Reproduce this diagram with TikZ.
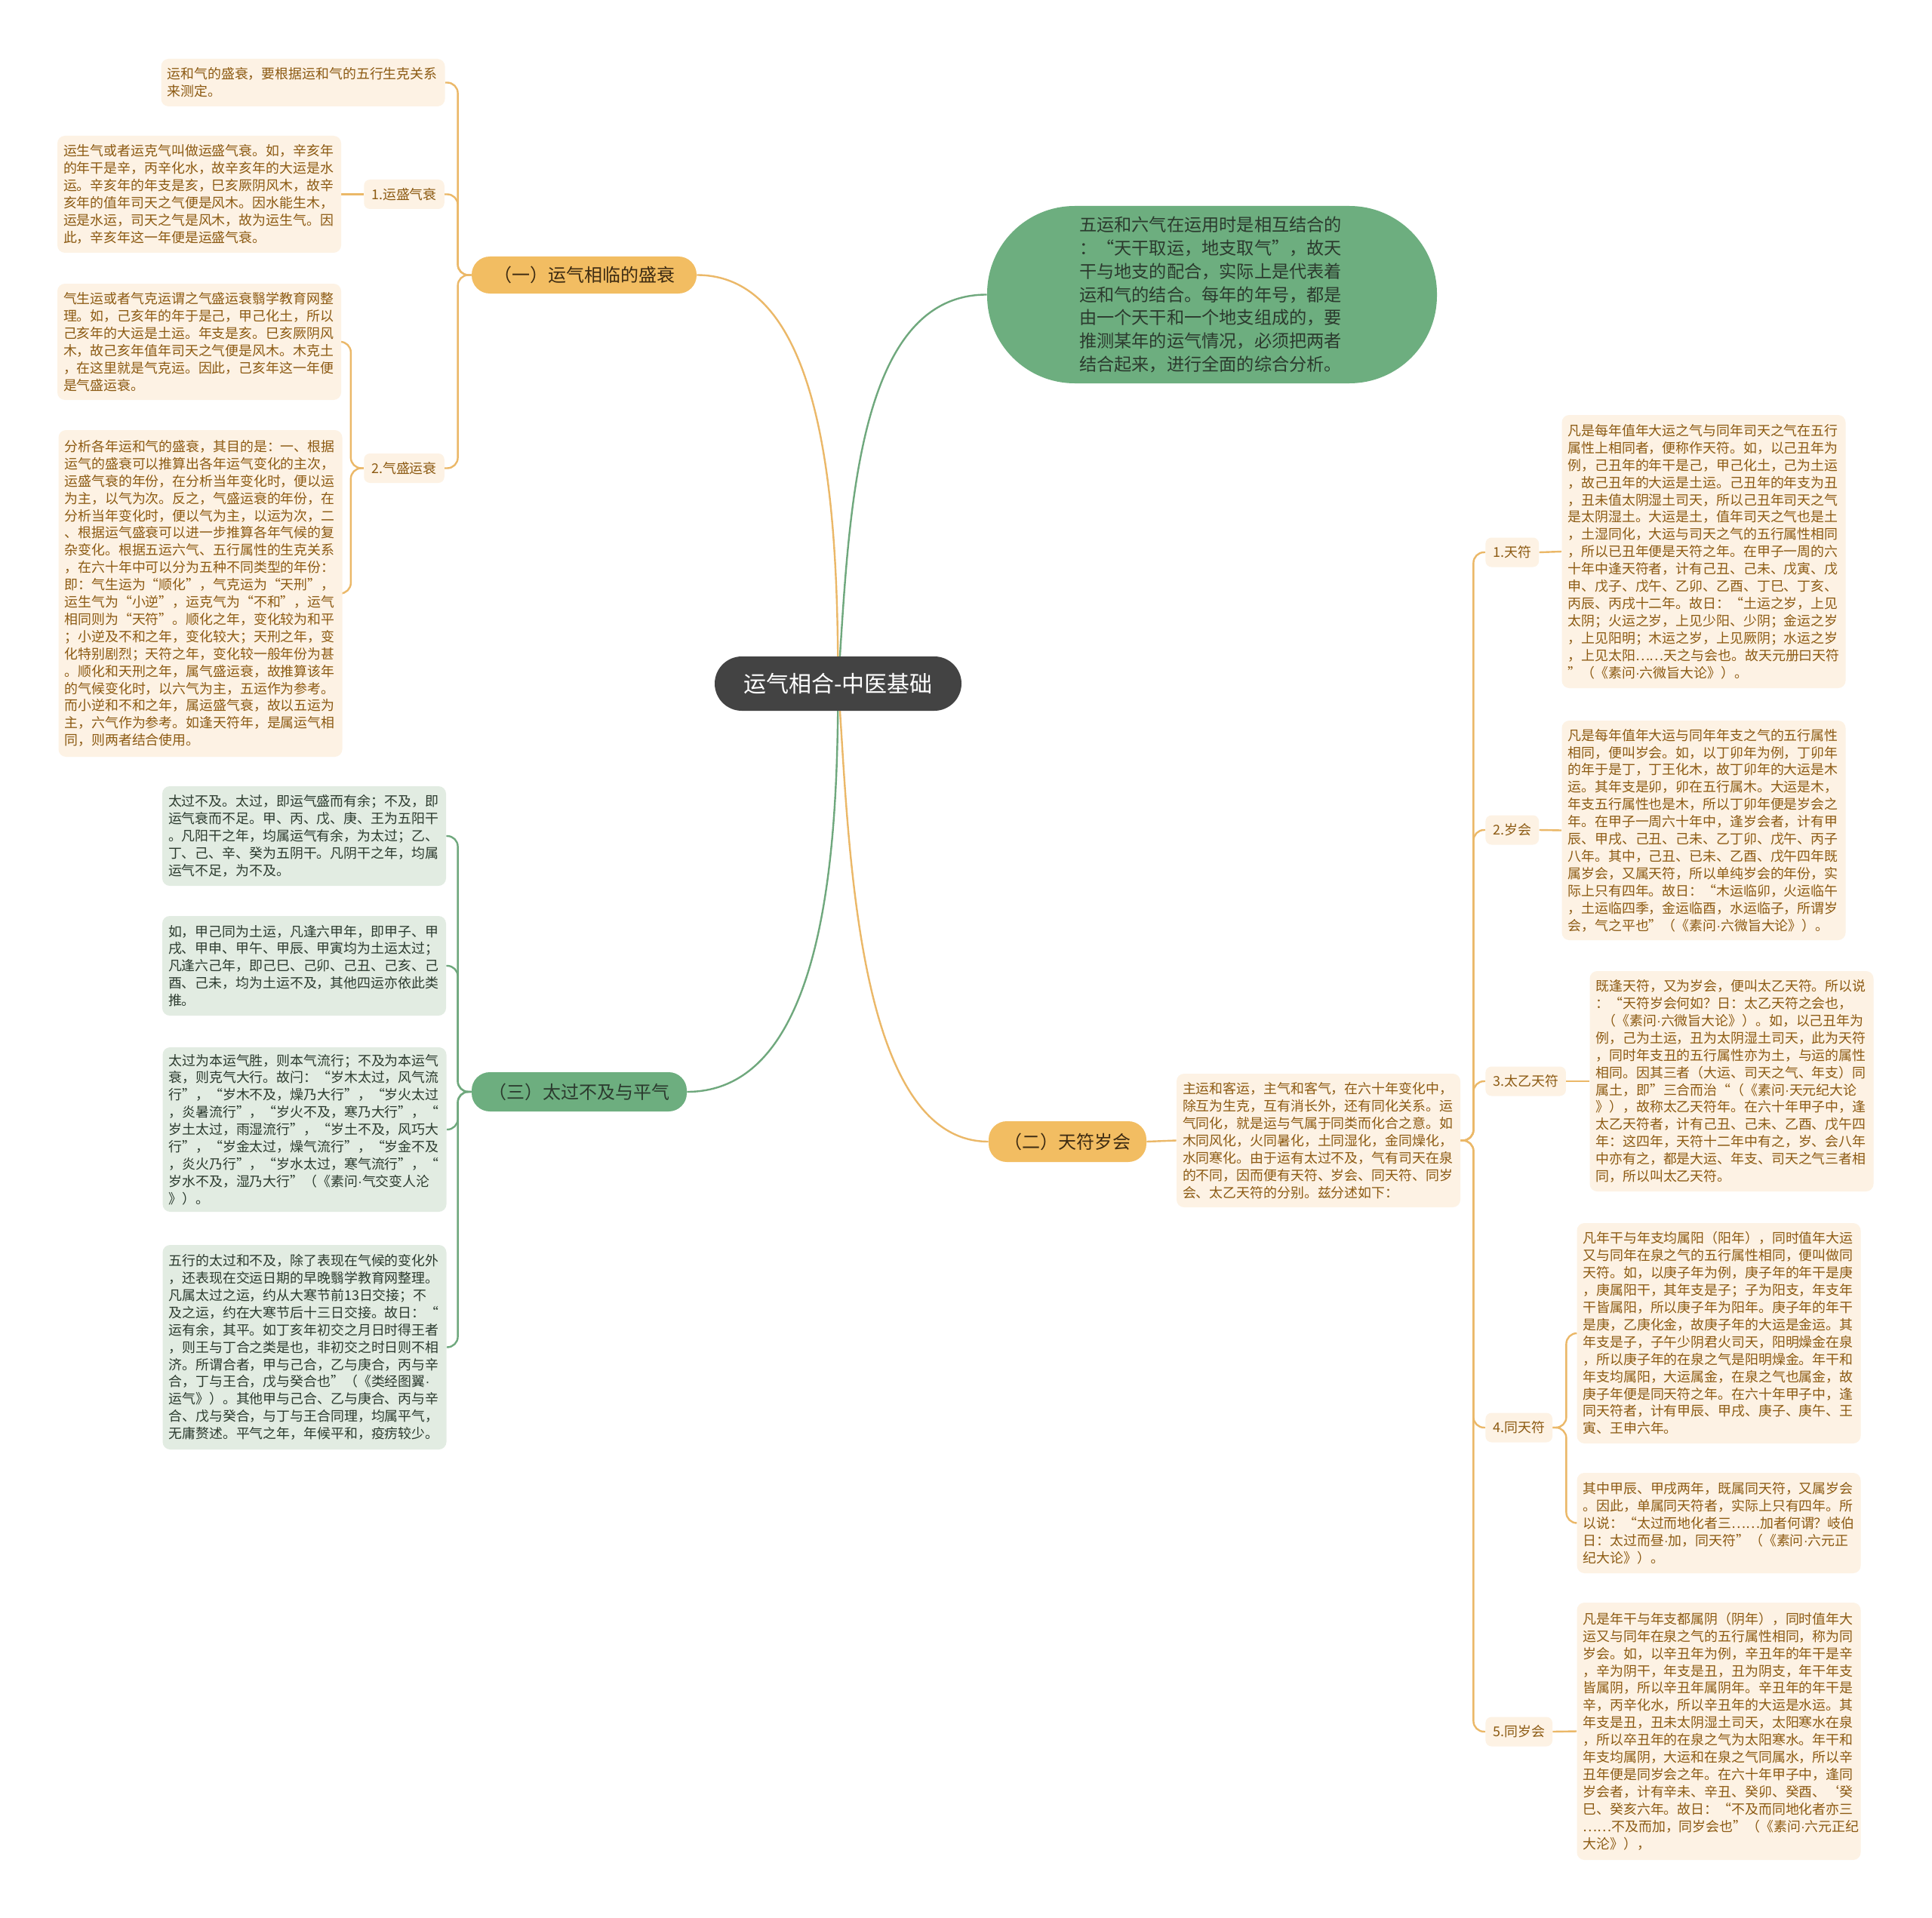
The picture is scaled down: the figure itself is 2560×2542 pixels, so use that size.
\documentclass[tikz,border=0pt]{standalone}
\usepackage{fontspec}
\setmainfont{Noto Sans CJK SC}
\newfontfamily\latinfont{Liberation Sans}
\newcommand\mdot{{\latinfont ·}}
\pgfdeclarelayer{bg}
\pgfsetlayers{bg,main}
\definecolor{obr}{HTML}{8C5A12}
\definecolor{obg}{HTML}{FDF2E4}
\definecolor{olinec}{HTML}{EBB868}
\definecolor{glinec}{HTML}{6FA87D}
\definecolor{gfill}{HTML}{E2ECE2}
\definecolor{gtext}{HTML}{2B3A2E}
\definecolor{gmain}{HTML}{6DAE7F}
\definecolor{omain}{HTML}{F2BD62}
\definecolor{rootc}{HTML}{434343}
\definecolor{pilltext}{HTML}{3D2B12}
\newcommand\bodyfont{\fontsize{8.95pt}{11.45pt}\selectfont}
\tikzset{
  obox/.style={fill=obg, rounded corners=5pt, text=obr, font=\bodyfont, align=left,
    text width=180pt, inner xsep=4pt, inner ysep=0pt},
  gbox/.style={obox, fill=gfill, text=gtext},
  olabel/.style={fill=obg, rounded corners=4pt, text=obr, font=\bodyfont,
    inner xsep=5pt, inner ysep=0pt, minimum height=19.5pt},
  opill/.style={fill=omain, text=pilltext, rounded corners=12pt, minimum height=24.5pt,
    font=\fontsize{12pt}{14pt}\selectfont, inner sep=0pt},
  gpill/.style={opill, fill=gmain, text=gtext},
  rootbox/.style={fill=rootc, text=white, rounded corners=18pt, minimum width=163.5pt,
    minimum height=36pt, font=\fontsize{15pt}{18pt}\selectfont, inner sep=0pt},
  stadium/.style={fill=gmain, rounded corners=58pt, minimum width=298pt, minimum height=117.5pt,
    text width=176pt, align=left, inner sep=0pt, text=gtext,
    font=\fontsize{11.6pt}{15.35pt}\selectfont},
  oedge/.style={draw=olinec, line width=1.2pt},
  gedge/.style={draw=glinec, line width=1.2pt},
}
\begin{document}
\begin{tikzpicture}[x=0.5pt,y=-0.5pt]
\useasboundingbox (0,0) rectangle (2560,2542);
\begin{pgfonlayer}{bg}
\fill[white] (0,0) rectangle (2560,2542);
\end{pgfonlayer}

% root and main branches
\node[rootbox] (root) at (1110.5,906) {运气相合-中医基础};
\node[opill, minimum width=149pt] (b1) at (774,364.5) {（一）运气相临的盛衰};
\node[gpill, minimum width=142.5pt, minimum height=26pt] (b3) at (767.5,1447) {（三）太过不及与平气};
\node[opill, minimum width=104.5pt, minimum height=27pt] (b2) at (1414.5,1513) {（二）天符岁会};
\node[stadium] (e) at (1606,390.5) {五运和六气在运用时是相互结合的\\：“天干取运，地支取气”，故天\\干与地支的配合，实际上是代表着\\运和气的结合。每年的年号，都是\\由一个天干和一个地支组成的，要\\推测某年的运气情况，必须把两者\\结合起来，进行全面的综合分析。};

% (一) group
\node[obox, minimum height=31.5pt] (t0) at (401.5,109.5) {运和气的盛衰，要根据运和气的五行生克关系\\来测定。};
\node[olabel] (l1) at (535.5,257.5) {1.运盛气衰};
\node[olabel] (l2) at (535.5,620.5) {2.气盛运衰};
\node[obox, minimum height=77.5pt] (b1a) at (264,257.5) {运生气或者运克气叫做运盛气衰。如，辛亥年\\的年干是辛，丙辛化水，故辛亥年的大运是水\\运。辛亥年的年支是亥，巳亥厥阴风木，故辛\\亥年的值年司天之气便是风木。因水能生木，\\运是水运，司天之气是风木，故为运生气。因\\此，辛亥年这一年便是运盛气衰。};
\node[obox, minimum height=77pt] (b1b) at (264,453) {气生运或者气克运谓之气盛运衰翳学教育网整\\理。如，己亥年的年于是己，甲己化土，所以\\己亥年的大运是土运。年支是亥。巳亥厥阴风\\木，故己亥年值年司天之气便是风木。木克土\\，在这里就是气克运。因此，己亥年这一年便\\是气盛运衰。};
\node[obox, minimum height=216.5pt] (b1c) at (265.5,786.5) {分析各年运和气的盛衰，其目的是：一、根据\\运气的盛衰可以推算出各年运气变化的主次，\\运盛气衰的年份，在分析当年变化时，便以运\\为主，以气为次。反之，气盛运衰的年份，在\\分析当年变化时，便以气为主，以运为次，二\\、根据运气盛衰可以进一步推算各年气候的复\\杂变化。根据五运六气、五行属性的生克关系\\，在六十年中可以分为五种不同类型的年份：\\即：气生运为“顺化”，气克运为“天刑”，\\运生气为“小逆”，运克气为“不和”，运气\\相同则为“天符”。顺化之年，变化较为和平\\；小逆及不和之年，变化较大；天刑之年，变\\化特别剧烈；天符之年，变化较一般年份为甚\\。顺化和天刑之年，属气盛运衰，故推算该年\\的气候变化时，以六气为主，五运作为参考。\\而小逆和不和之年，属运盛气衰，故以五运为\\主，六气作为参考。如逢天符年，是属运气相\\同，则两者结合使用。};

% (三) group
\node[gbox, minimum height=66pt] (g1) at (403,1108) {太过不及。太过，即运气盛而有余；不及，即\\运气衰而不足。甲、丙、戊、庚、王为五阳干\\。凡阳干之年，均属运气有余，为太过；乙、\\丁、己、辛、癸为五阴干。凡阴干之年，均属\\运气不足，为不及。};
\node[gbox, minimum height=66pt] (g2) at (403,1280) {如，甲己同为土运，凡逢六甲年，即甲子、甲\\戌、甲申、甲午、甲辰、甲寅均为土运太过；\\凡逢六己年，即己巳、己卯、己丑、己亥、己\\酉、己未，均为土运不及，其他四运亦依此类\\推。};
\node[gbox, minimum height=109pt] (g3) at (403.5,1497) {太过为本运气胜，则本气流行；不及为本运气\\衰，则克气大行。故闩：“岁木太过，风气流\\行”，“岁木不及，燥乃大行”，“岁火太过\\，炎暑流行”，“岁火不及，寒乃大行”，“\\岁土太过，雨湿流行”，“岁土不及，风巧大\\行”，“岁金太过，燥气流行”，“岁金不及\\，炎火乃行”，“岁水太过，寒气流行”，“\\岁水不及，湿乃大行”（《素问\mdot 气交变人沦\\》）。};
\node[gbox, minimum height=135.5pt] (g4) at (403.5,1785.5) {五行的太过和不及，除了表现在气候的变化外\\，还表现在交运日期的早晚翳学教育网整理。\\凡属太过之运，约从大寒节前13日交接；不\\及之运，约在大寒节后十三日交接。故日：“\\运有余，其平。如丁亥年初交之月日时得王者\\，则王与丁合之类是也，非初交之时日则不相\\济。所谓合者，甲与己合，乙与庚合，丙与辛\\合，丁与王合，戊与癸合也”（《类经图翼\mdot\\运气》）。其他甲与己合、乙与庚合、丙与辛\\合、戊与癸合，与丁与王合同理，均属平气，\\无庸赘述。平气之年，年候平和，疫疠较少。};

% (二) group
\node[obox, minimum height=88.5pt] (m) at (1747,1511.5) {主运和客运，主气和客气，在六十年变化中，\\除互为生克，互有消长外，还有同化关系。运\\气同化，就是运与气属于同类而化合之意。如\\木同风化，火同暑化，土同湿化，金同燥化，\\水同寒化。由于运有太过不及，气有司天在泉\\的不同，因而便有天符、岁会、同天符、同岁\\会、太乙天符的分别。兹分述如下：};
\node[olabel, anchor=west] (r1l) at (1968,732) {1.天符};
\node[olabel, anchor=west] (r2l) at (1968,1100) {2.岁会};
\node[olabel, anchor=west] (r3l) at (1968,1433) {3.太乙天符};
\node[olabel, anchor=west] (r4l) at (1968,1892) {4.同天符};
\node[olabel, anchor=west] (r5l) at (1968,2295) {5.同岁会};
\node[obox, minimum height=181pt] (r1) at (2257.5,731) {凡是每年值年大运之气与同年司天之气在五行\\属性上相同者，便称作天符。如，以己丑年为\\例，己丑年的年干是己，甲己化土，己为土运\\，故己丑年的大运是土运。己丑年的年支为丑\\，丑未值太阴湿土司天，所以己丑年司天之气\\是太阴湿土。大运是土，值年司天之气也是土\\，土湿同化，大运与司天之气的五行属性相同\\，所以已丑年便是天符之年。在甲子一周的六\\十年中逢天符者，计有己丑、己未、戊寅、戊\\申、戊子、戊午、乙卯、乙酉、丁巳、丁亥、\\丙辰、丙戌十二年。故日：“土运之岁，上见\\太阴；火运之岁，上见少阳、少阴；金运之岁\\，上见阳明；木运之岁，上见厥阴；水运之岁\\，上见太阳……天之与会也。故天元册曰天符\\”（《素问\mdot 六微旨大论》）。};
\node[obox, minimum height=145.5pt] (r2) at (2257.5,1100.5) {凡是每年值年大运与同年年支之气的五行属性\\相同，便叫岁会。如，以丁卯年为例，丁卯年\\的年于是丁，丁王化木，故丁卯年的大运是木\\运。其年支是卯，卯在五行属木。大运是木，\\年支五行属性也是木，所以丁卯年便是岁会之\\年。在甲子一周六十年中，逢岁会者，计有甲\\辰、甲戌、己丑、己未、乙丁卯、戊午、丙子\\八年。其中，己丑、已未、乙酉、戊午四年既\\属岁会，又属天符，所以单纯岁会的年份，实\\际上只有四年。故日：“木运临卯，火运临午\\，土运临四季，金运临酉，水运临子，所谓岁\\会，气之平也”（《素问\mdot 六微旨大论》）。};
\node[obox, minimum height=146pt] (r3) at (2294.5,1433) {既逢天符，又为岁会，便叫太乙天符。所以说\\：“天符岁会何如？日：太乙天符之会也，\\\hspace*{0.5em}（《素问\mdot 六微旨大论》）。如，以己丑年为\\例，己为土运，丑为太阴湿土司天，此为天符\\，同时年支丑的五行属性亦为土，与运的属性\\相同。因其三者（大运、司天之气、年支）同\\属土，即”三合而治“（《素问\mdot 天元纪大论\\》），故称太乙天符年。在六十年甲子中，逢\\太乙天符者，计有己丑、己未、乙酉、戊午四\\年：这四年，天符十二年中有之，岁、会八年\\中亦有之，都是大运、年支、司天之气三者相\\同，所以叫太乙天符。};
\node[obox, minimum height=146pt] (r4a) at (2277.5,1767) {凡年干与年支均属阳（阳年），同时值年大运\\又与同年在泉之气的五行属性相同，便叫做同\\天符。如，以庚子年为例，庚子年的年干是庚\\，庚属阳干，其年支是子；子为阳支，年支年\\干皆属阳，所以庚子年为阳年。庚子年的年干\\是庚，乙庚化金，故庚子年的大运是金运。其\\年支是子，子午少阴君火司天，阳明燥金在泉\\，所以庚子年的在泉之气是阳明燥金。年干和\\年支均属阳，大运属金，在泉之气也属金，故\\庚子年便是同天符之年。在六十年甲子中，逢\\同天符者，计有甲辰、甲戌、庚子、庚午、王\\寅、王申六年。};
\node[obox, minimum height=66.5pt] (r4b) at (2277.5,2018.5) {其中甲辰、甲戌两年，既属同天符，又属岁会\\。因此，单属同天符者，实际上只有四年。所\\以说：“太过而地化者三……加者何谓？岐伯\\日：太过而昼\mdot 加，同天符”（《素问\mdot 六元正\\纪大论》）。};
\node[obox, minimum height=170.5pt] (r5) at (2277.5,2294.5) {凡是年干与年支都属阴（阴年），同时值年大\\运又与同年在泉之气的五行属性相同，称为同\\岁会。如，以辛丑年为例，辛丑年的年干是辛\\，辛为阴干，年支是丑，丑为阴支，年干年支\\皆属阴，所以辛丑年属阴年。辛丑年的年干是\\辛，丙辛化水，所以辛丑年的大运是水运。其\\年支是丑，丑未太阴湿土司天，太阳寒水在泉\\，所以卒丑年的在泉之气为太阳寒水。年干和\\年支均属阴，大运和在泉之气同属水，所以辛\\丑年便是同岁会之年。在六十年甲子中，逢同\\岁会者，计有辛未、辛丑、癸卯、癸酉、‘癸\\巳、癸亥六年。故日：“不及而同地化者亦三\\……不及而加，同岁会也”（《素问\mdot 六元正纪\\大沦》），};

% connectors
\begin{pgfonlayer}{bg}
\draw[oedge] (b1.east) .. controls (1100,364.5) and (1110,700) .. (root.center);
\draw[gedge] (b3.east) .. controls (1100,1447) and (1110,1100) .. (root.center);
\draw[gedge] (e.west) .. controls (1130,390) and (1125,700) .. (root.center);
\draw[oedge] (b2.west) .. controls (1130,1513) and (1125,1100) .. (root.center);

\draw[oedge, rounded corners=7pt] (b1.west) -- ++(-18,0) |- (t0.east);
\draw[oedge, rounded corners=7pt] (b1.west) -- ++(-18,0) |- (l1.east);
\draw[oedge, rounded corners=7pt] (b1.west) -- ++(-18,0) |- (l2.east);
\draw[oedge] (l1.west) -- (b1a.east);
\draw[oedge, rounded corners=7pt] (l2.west) -- ++(-17,0) |- (b1b.east);
\draw[oedge, rounded corners=7pt] (l2.west) -- ++(-17,0) |- (b1c.east);

\draw[gedge, rounded corners=7pt] (b3.west) -- ++(-18,0) |- (g1.east);
\draw[gedge, rounded corners=7pt] (b3.west) -- ++(-18,0) |- (g2.east);
\draw[gedge, rounded corners=7pt] (b3.west) -- ++(-18,0) |- (g3.east);
\draw[gedge, rounded corners=7pt] (b3.west) -- ++(-18,0) |- (g4.east);

\draw[oedge] (b2.east) -- (m.west);
\draw[oedge, rounded corners=7pt] (m.east) -- ++(17,0) |- (r1l.west);
\draw[oedge, rounded corners=7pt] (m.east) -- ++(17,0) |- (r2l.west);
\draw[oedge, rounded corners=7pt] (m.east) -- ++(17,0) |- (r3l.west);
\draw[oedge, rounded corners=7pt] (m.east) -- ++(17,0) |- (r4l.west);
\draw[oedge, rounded corners=7pt] (m.east) -- ++(17,0) |- (r5l.west);
\draw[oedge] (r1l.east) -- (r1.west);
\draw[oedge] (r2l.east) -- (r2.west);
\draw[oedge] (r3l.east) -- (r3.west);
\draw[oedge, rounded corners=7pt] (r4l.east) -- ++(18,0) |- (r4a.west);
\draw[oedge, rounded corners=7pt] (r4l.east) -- ++(18,0) |- (r4b.west);
\draw[oedge] (r5l.east) -- (r5.west);
\end{pgfonlayer}
\end{tikzpicture}
\end{document}
